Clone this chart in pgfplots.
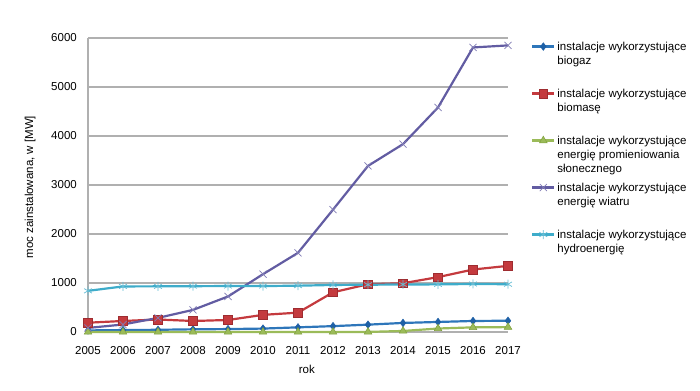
\documentclass[border=0pt]{standalone}
\usepackage{pgfplots}
\pgfplotsset{compat=1.18}
\usepackage{fontspec}
\setmainfont{Liberation Sans}

\definecolor{cBiogaz}{RGB}{46,118,186}
\definecolor{cBiogazD}{RGB}{30,96,166}
\definecolor{cBiomasa}{RGB}{196,58,62}
\definecolor{cBiomasaD}{RGB}{158,44,48}
\definecolor{cSlonce}{RGB}{155,187,89}
\definecolor{cSlonceD}{RGB}{128,160,62}
\definecolor{cWiatr}{RGB}{98,92,162}
\definecolor{cHydro}{RGB}{62,172,202}
\definecolor{cGrid}{RGB}{176,176,176}

\newcommand{\chartfont}{\fontsize{11.5bp}{14bp}\selectfont}
\newcommand{\entry}[1]{\parbox[t][47bp][t]{140bp}{#1}}

\begin{document}
\begin{tikzpicture}[x=1bp,y=1bp]
\useasboundingbox (0,0) rectangle (700,390);
\begin{axis}[
  at={(88bp,58bp)}, anchor=south west,
  scale only axis, width=420bp, height=294bp,
  xmin=2005, xmax=2017, ymin=0, ymax=6000,
  xtick={2005,2006,...,2017},
  ytick={0,1000,...,6000},
  /pgf/number format/assume math mode=true,
  /pgf/number format/set thousands separator={},
  major tick length=0pt,
  axis x line*=bottom, axis y line*=left,
  axis line style={draw=cGrid, line width=1.3bp, -},
  ymajorgrids, grid style={draw=cGrid, line width=1.3bp},
  tick label style={font=\chartfont, inner sep=0pt},
  yticklabel style={xshift=-11bp},
  xticklabel style={yshift=-14bp},
  label style={font=\chartfont},
  xlabel={rok},
  xlabel style={at={(axis description cs:0.521,-0.126)}, anchor=center},
  ylabel={moc zainstalowana, w [MW]},
  ylabel style={at={(axis description cs:-0.138,0.493)}, anchor=center},
  clip=false,
  legend style={
    at={(axis description cs:1.0548,0.988)}, anchor=north west,
    draw=none, fill=none, inner sep=0pt, row sep=0pt,
    font=\chartfont,
    cells={anchor=base west},
    nodes={inner xsep=2bp, inner ysep=0pt, text depth=},
  },
  legend image code/.code={%
    \draw[mark repeat=2, mark phase=2, #1]
      plot coordinates {(0bp,3.5bp) (11bp,3.5bp) (22bp,3.5bp)};},
]

% instalacje wykorzystujące biogaz
\addplot[color=cBiogaz, line width=2.2bp, mark=diamond*, mark size=3.8bp,
  mark options={fill=cBiogazD, draw=cBiogazD, line width=0.5bp}]
  coordinates {(2005,32) (2006,40) (2007,45) (2008,55) (2009,60) (2010,70)
    (2011,95) (2012,120) (2013,150) (2014,185) (2015,205) (2016,225) (2017,230)};
\addlegendentry{\entry{instalacje wykorzystujące\\biogaz}}

% instalacje wykorzystujące biomasę
\addplot[color=cBiomasa, line width=2.2bp, mark=square*, mark size=4.3bp,
  mark options={fill=cBiomasa, draw=cBiomasaD, line width=0.6bp}]
  coordinates {(2005,190) (2006,225) (2007,255) (2008,225) (2009,245) (2010,350)
    (2011,395) (2012,810) (2013,975) (2014,995) (2015,1120) (2016,1275) (2017,1350)};
\addlegendentry{\entry{instalacje wykorzystujące\\biomasę}}

% instalacje wykorzystujące energię promieniowania słonecznego
\addplot[color=cSlonce, line width=2.2bp, mark=triangle*, mark size=4.4bp,
  mark options={fill=cSlonce, draw=cSlonceD, line width=0.5bp}]
  coordinates {(2005,0) (2006,0) (2007,0) (2008,0) (2009,0) (2010,0)
    (2011,0) (2012,0) (2013,2) (2014,21) (2015,71) (2016,95) (2017,100)};
\addlegendentry{\entry{instalacje wykorzystujące\\energię promieniowania\\słonecznego}}

% instalacje wykorzystujące energię wiatru
\addplot[color=cWiatr, line width=2.2bp, mark=x, mark size=5bp,
  mark options={draw=cWiatr!80, line width=0.7bp}]
  coordinates {(2005,83) (2006,153) (2007,288) (2008,451) (2009,725) (2010,1180)
    (2011,1616) (2012,2497) (2013,3390) (2014,3834) (2015,4582) (2016,5807) (2017,5849)};
\addlegendentry{\entry{instalacje wykorzystujące\\energię wiatru}}

% instalacje wykorzystujące hydroenergię
\addplot[color=cHydro, line width=2.2bp, mark=asterisk, mark size=4.5bp,
  mark options={draw=cHydro!80, line width=0.7bp}]
  coordinates {(2005,840) (2006,930) (2007,932) (2008,935) (2009,938) (2010,938)
    (2011,945) (2012,960) (2013,965) (2014,970) (2015,972) (2016,980) (2017,975)};
\addlegendentry{\entry{instalacje wykorzystujące\\hydroenergię}}

\end{axis}
\end{tikzpicture}
\end{document}
